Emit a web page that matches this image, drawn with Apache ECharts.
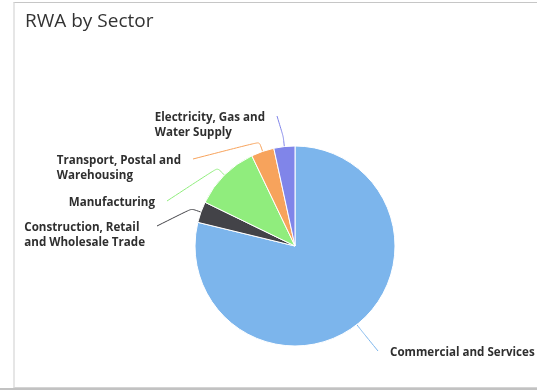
<!DOCTYPE html>
<html>
<head>
<meta charset="utf-8">
<script src="https://cdn.jsdelivr.net/npm/echarts@6/dist/echarts.min.js"></script>
<style>
  html, body { margin: 0; padding: 0; background: #fff; }
  #frame { position: absolute; left: 13px; top: 2px; width: 540px; height: 384px;
           border-top: 1px solid #c6c6c6; border-left: 2px solid #e6e6e6; border-bottom: 1px solid #d4d4d4; }
  #base { position: absolute; left: 0; top: 388px; width: 537px; height: 2px; background: #c2c2c2; }
  #chart { position: absolute; left: 0; top: 0; width: 537px; height: 390px; }
</style>
</head>
<body>
<div id="frame"></div>
<div id="base"></div>
<div id="chart"></div>
<script>
// Sector breakdown of risk-weighted assets (share of total, %)
const categories = [
  'Commercial and Services',
  'Construction, Retail and Wholesale Trade',
  'Manufacturing',
  'Transport, Postal and Warehousing',
  'Electricity, Gas and Water Supply'
];
const labelText = [
  'Commercial and Services',
  'Construction, Retail\nand Wholesale Trade',
  'Manufacturing',
  'Transport, Postal and\nWarehousing',
  'Electricity, Gas and\nWater Supply'
];
const rwaShare = [78.8, 3.4, 10.7, 3.7, 3.4];
const sliceColors = ['#7cb5ec', '#434348', '#90ed7d', '#f7a35c', '#8085e9'];

// Label placement: [x of the text edge facing the pie, y of the first text line]
const labelSpots = [[390, 353], [145, 228], [155, 203], [181, 161], [265, 118]];
const pieCenter = [295, 246];
const LINE_H = 14.5;

const chart = echarts.init(document.getElementById('chart'), null, { renderer: 'canvas' });

chart.setOption({
  animation: false,
  color: sliceColors,
  title: {
    text: 'RWA by Sector',
    left: 20,
    top: 7,
    textStyle: { fontFamily: 'Open Sans', fontSize: 19, fontWeight: 'normal', color: '#333333' }
  },
  series: [{
    type: 'pie',
    center: pieCenter,
    radius: 100,
    startAngle: 90,
    clockwise: true,
    avoidLabelOverlap: false,
    data: categories.map((name, i) => ({ name: name, value: rwaShare[i] })),
    itemStyle: { borderColor: '#ffffff', borderWidth: 1 },
    emphasis: { disabled: true },
    label: {
      show: true,
      position: 'outside',
      formatter: p => labelText[p.dataIndex],
      fontFamily: 'Open Sans',
      fontSize: 11.6,
      fontWeight: 'bold',
      color: '#2f2f2f',
      lineHeight: LINE_H
    },
    labelLine: { show: true, length: 10, length2: 10, smooth: 0.2, lineStyle: { width: 1 } },
    labelLayout: function (p) {
      const spot = labelSpots[p.dataIndex];
      const onLeft = spot[0] < pieCenter[0];
      const w = p.labelRect.width;
      const pts = p.labelLinePoints;
      const end = [onLeft ? spot[0] + 12 : spot[0] - 12, spot[1] - 2];
      return {
        x: onLeft ? spot[0] - w : spot[0],
        y: spot[1] - LINE_H / 2,
        align: 'left',
        verticalAlign: 'top',
        labelLinePoints: pts ? [pts[0], pts[1], end] : undefined
      };
    }
  }]
});
</script>
</body>
</html>
